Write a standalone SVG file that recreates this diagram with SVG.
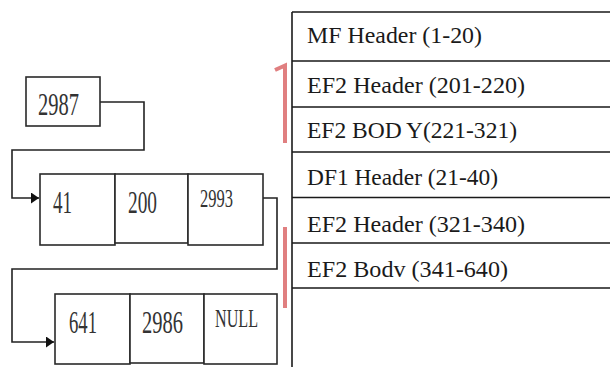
<svg xmlns="http://www.w3.org/2000/svg" width="610" height="367" viewBox="0 0 610 367">
<defs>
<style>
.box{fill:#fff;stroke:#2a2a2a;stroke-width:1.6}
.ln{fill:none;stroke:#1a1a1a;stroke-width:1.6}
.conn{fill:none;stroke:#222;stroke-width:1.6}
.red{fill:none;stroke:#e07f80;stroke-width:4}
.num{font-family:"Liberation Serif","Times New Roman",serif;font-size:32px;fill:#333}
.sm{font-size:26px}
.tt{font-family:"Liberation Serif","Times New Roman",serif;font-size:22.5px;fill:#1a1a1a}
</style>
<marker id="arr" viewBox="0 0 10 10" refX="10" refY="5" markerWidth="8" markerHeight="11" markerUnits="userSpaceOnUse" orient="auto" preserveAspectRatio="none">
<path d="M0,0 L10,5 L0,10 Z" fill="#111"/>
</marker>
</defs>
<rect width="610" height="367" fill="#fff"/>

<g id="connectors">
<path class="conn" d="M100,102 H144 V150 H12 V198 H39" marker-end="url(#arr)"/>
<path class="conn" d="M263,198 H277 V269 H12 V342 H54" marker-end="url(#arr)"/>
</g>

<g id="node-2987">
<rect class="box" x="26" y="77" width="74" height="49"/>
<text class="num" x="38" y="115" textLength="41" lengthAdjust="spacingAndGlyphs">2987</text>
</g>

<g id="node-list1">
<rect class="box" x="40" y="174" width="75" height="71"/>
<rect class="box" x="115" y="174" width="73" height="69"/>
<rect class="box" x="188" y="174" width="75" height="71"/>
<text class="num" x="53" y="213" textLength="19" lengthAdjust="spacingAndGlyphs">41</text>
<text class="num" x="128" y="213" textLength="29" lengthAdjust="spacingAndGlyphs">200</text>
<text class="num sm" x="200" y="207" textLength="33" lengthAdjust="spacingAndGlyphs">2993</text>
</g>

<g id="node-list2">
<rect class="box" x="55" y="294" width="75" height="70"/>
<rect class="box" x="130" y="294" width="74" height="69"/>
<rect class="box" x="204" y="294" width="73" height="70"/>
<text class="num" x="69" y="333" textLength="28" lengthAdjust="spacingAndGlyphs">641</text>
<text class="num" x="142" y="333" textLength="41" lengthAdjust="spacingAndGlyphs">2986</text>
<text class="num sm" x="215" y="327" textLength="43" lengthAdjust="spacingAndGlyphs">NULL</text>
</g>

<g id="node-table">
<path class="ln" d="M292,12 V367"/>
<path class="ln" d="M292,12 H610 M292,61 H610 M292,107 H610 M292,152 H610 M292,197.5 H610 M292,243 H610 M292,288 H610"/>
<text class="tt" x="307" y="43" textLength="175" lengthAdjust="spacingAndGlyphs">MF Header (1-20)</text>
<text class="tt" x="307" y="93" textLength="218" lengthAdjust="spacingAndGlyphs">EF2 Header (201-220)</text>
<text class="tt" x="307" y="138" textLength="210" lengthAdjust="spacingAndGlyphs">EF2 BOD<tspan dx="4">Y(221-321)</tspan></text>
<text class="tt" x="307" y="185" textLength="191" lengthAdjust="spacingAndGlyphs">DF1 Header (21-40)</text>
<text class="tt" x="307" y="232" textLength="218" lengthAdjust="spacingAndGlyphs">EF2 Header (321-340)</text>
<text class="tt" x="307" y="277" textLength="201" lengthAdjust="spacingAndGlyphs">EF2 Bodv (341-640)</text>
</g>

<g id="node-bracket1">
<path class="red" d="M275,70 L285,65.5 V143"/>
</g>
<g id="node-bracket2">
<path class="red" d="M285,227 V308"/>
</g>
</svg>
